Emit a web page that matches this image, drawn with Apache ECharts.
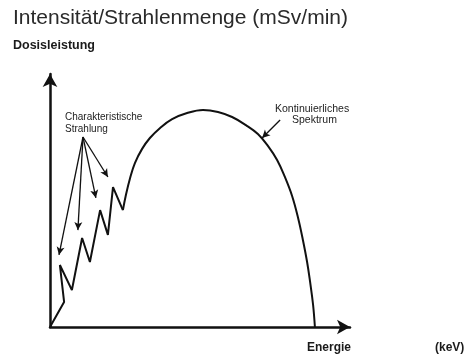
<!DOCTYPE html>
<html lang="de">
<head>
    <meta charset="UTF-8">
    <title>Dosisleistung / Energie</title>
    <script src="https://cdn.jsdelivr.net/npm/echarts@6/dist/echarts.min.js"></script>
    <style>
        html, body, #chart {
            width: 469px;
            height: 355px;
            padding: 0;
            margin: 0;
            background: #fff;
        }
    </style>
</head>
<body>
<div id="chart"></div>
<script>
    // spikes of the characteristic radiation (energy %, dose %)
    var spikeX = [0, 4.7, 3.3, 7.3, 10.7, 13.3, 16.7, 19.3, 21.0, 24.3];
    var spikeY = [0, 9.9, 24.5, 14.6, 35.2, 25.7, 46.2, 36.4, 55.3, 46.2];

    // continuous spectrum (bremsstrahlung)
    var arcX = [24.3, 25.3, 26.7, 28.3, 30.7, 33.3, 36.7, 40.7, 45.7, 51.0, 56.0, 60.7,
        65.3, 69.3, 72.7, 75.7, 78.3, 80.7, 82.7, 84.3, 85.7, 86.7, 87.7, 88.3];
    var arcY = [46.2, 52.2, 58.9, 64.8, 70.4, 74.7, 78.7, 82.2, 84.6, 85.8, 85.0, 83.0,
        79.8, 76.3, 71.5, 66.0, 59.3, 51.8, 43.1, 34.4, 25.7, 17.8, 8.7, 0];

    // annotation arrows: from label to curve
    var charFrom = [11, 75.1];
    var charTips = [[3, 28.5], [9.3, 38.3], [15.3, 51], [19.3, 59.3]];
    var contFrom = [76.7, 81.8];
    var contTip = [70.7, 74.7];

    var font = "'Liberation Sans', Arial, sans-serif";

    function pairs(xs, ys) {
        return xs.map(function (x, i) {
            return [x, ys[i]];
        });
    }

    var arrowLines = charTips.map(function (t) {
        return [{coord: charFrom}, {coord: t}];
    });
    arrowLines.push([{coord: contFrom}, {coord: contTip}]);

    var axisCommon = {
        type: "value",
        min: 0,
        max: 100,
        axisLine: {
            show: true,
            symbol: ["none", "arrow"],
            symbolSize: [11, 13],
            lineStyle: {color: "#111", width: 2.5}
        },
        axisTick: {show: false},
        axisLabel: {show: false},
        splitLine: {show: false}
    };

    var myChart = echarts.init(document.getElementById("chart"));

    myChart.setOption({
        animation: false,
        backgroundColor: "#fff",
        title: {
            text: "Intensität/Strahlenmenge (mSv/min)",
            left: 13,
            top: 8,
            padding: 0,
            textStyle: {
                fontFamily: font,
                fontSize: 21,
                fontWeight: "normal",
                color: "#2a2a2a"
            }
        },
        grid: {left: 50, right: 119, top: 74, bottom: 28},
        xAxis: axisCommon,
        yAxis: axisCommon,
        graphic: [
            {type: "text", left: 13, top: 39,
                style: {text: "Dosisleistung", font: "bold 12.5px " + font, fill: "#1a1a1a"}},
            {type: "text", left: 65, top: 111,
                style: {text: "Charakteristische\nStrahlung", font: "10px " + font, fill: "#222", lineHeight: 12}},
            {type: "text", left: 275, top: 104,
                style: {text: "Kontinuierliches", font: "10.5px " + font, fill: "#222"}},
            {type: "text", left: 292, top: 115,
                style: {text: "Spektrum", font: "10.5px " + font, fill: "#222"}},
            {type: "text", left: 307, top: 342,
                style: {text: "Energie", font: "bold 12px " + font, fill: "#1a1a1a"}},
            {type: "text", left: 435, top: 342,
                style: {text: "(keV)", font: "bold 12px " + font, fill: "#1a1a1a"}}
        ],
        series: [
            {
                type: "line",
                data: pairs(spikeX, spikeY),
                symbol: "none",
                smooth: false,
                lineStyle: {color: "#111", width: 2},
                markLine: {
                    silent: true,
                    symbol: ["none", "arrow"],
                    symbolSize: [6, 8],
                    label: {show: false},
                    lineStyle: {color: "#111", width: 1.3, type: "solid"},
                    data: arrowLines
                }
            },
            {
                type: "line",
                data: pairs(arcX, arcY),
                symbol: "none",
                smooth: 0.4,
                lineStyle: {color: "#111", width: 2}
            }
        ]
    });
</script>
</body>
</html>
